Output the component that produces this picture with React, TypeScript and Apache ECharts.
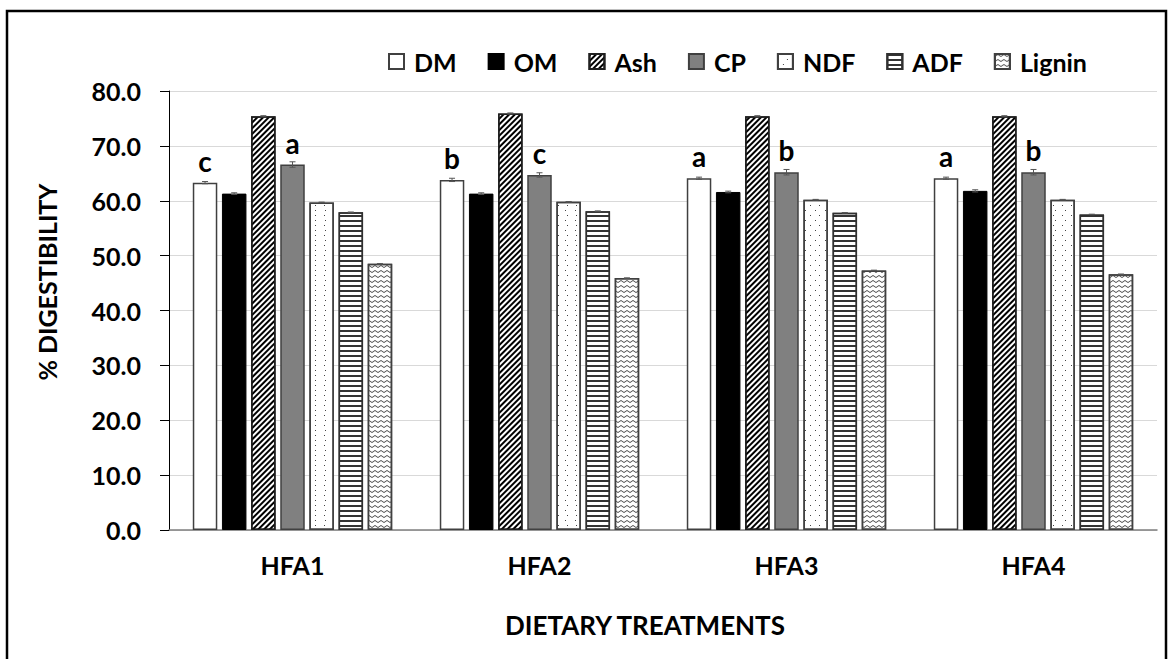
import React, { useEffect, useRef } from "react";
import * as echarts from "echarts";

const categories = ["HFA1", "HFA2", "HFA3", "HFA4"];
const seriesNames = ["DM", "OM", "Ash", "CP", "NDF", "ADF", "Lignin"];
const DM = [63.3, 63.8, 64.1, 64.1];
const OM = [61.3, 61.3, 61.6, 61.8];
const Ash = [75.4, 75.9, 75.4, 75.4];
const CP = [66.6, 64.7, 65.2, 65.2];
const NDF = [59.7, 59.8, 60.2, 60.2];
const ADF = [57.9, 58.1, 57.8, 57.5];
const Lignin = [48.5, 45.9, 47.3, 46.6];
const errDM = [0.2, 0.3, 0.2, 0.2];
const errOM = [0.15, 0.15, 0.15, 0.2];
const errAsh = [0.1, 0.1, 0.1, 0.1];
const errCP = [0.5, 0.4, 0.5, 0.5];
const errNDF = [0.05, 0.05, 0.05, 0.05];
const errADF = [0.05, 0.05, 0.05, 0.05];
const errLignin = [0.05, 0.05, 0.05, 0.05];
const lettersDM = ["c", "b", "a", "a"];
const lettersCP = ["a", "c", "b", "b"];
const yTicks = [0, 10, 20, 30, 40, 50, 60, 70, 80];

const FONT = "Lato";

export default function App() {
  const ref = useRef<HTMLDivElement>(null);
  useEffect(() => {
    if (!ref.current) return;
    const chart = echarts.init(ref.current, null, { renderer: "svg" });
    const values = [DM, OM, Ash, CP, NDF, ADF, Lignin];
    const errs = [errDM, errOM, errAsh, errCP, errNDF, errADF, errLignin];
    const barWidth = 24.5;
    const gapPct = 0.19;
    const step = barWidth * (1 + gapPct);

    const styles: any[] = [
      { color: "#ffffff", borderColor: "#404040", borderWidth: 1.5 },
      { color: "#000000", borderColor: "#000000", borderWidth: 1 },
      {
        color: "#ffffff", borderColor: "#202020", borderWidth: 1.5,
        decal: { symbol: "rect", symbolSize: 1, dashArrayX: [1, 0], dashArrayY: [1.6, 1.6], rotation: -Math.PI / 4, color: "#000000" },
      },
      { color: "#808080", borderColor: "#404040", borderWidth: 1.5 },
      {
        color: "#ffffff", borderColor: "#404040", borderWidth: 1.5,
        decal: { symbol: "rect", symbolSize: 1, dashArrayX: [[1, 8], [0, 4.5, 1, 3.5]], dashArrayY: [1, 3.5], color: "#444444" },
      },
      {
        color: "#ffffff", borderColor: "#303030", borderWidth: 1.5,
        decal: { symbol: "rect", symbolSize: 1, dashArrayX: [1, 0], dashArrayY: [1.3, 2.7], color: "#333333" },
      },
      {
        color: "#ffffff", borderColor: "#404040", borderWidth: 1.5,
        decal: {
          symbol: "path://M0,2 L3,0 L6,2 L6,3 L3,1 L0,3 Z", symbolSize: 1, symbolKeepAspect: false,
          dashArrayX: [6, 0], dashArrayY: [3, 2], color: "#444444",
        },
      },
    ];

    const barSeries: any[] = seriesNames.map((name, i) => ({
      name,
      type: "bar",
      data: values[i],
      barWidth,
      barGap: gapPct * 100 + "%",
      itemStyle: styles[i],
      label:
        i === 0 || i === 3
          ? {
              show: true,
              position: "top",
              distance: 8,
              fontFamily: FONT,
              fontWeight: "bold",
              fontSize: 28,
              color: "#000",
              formatter: (p: any) => (i === 0 ? lettersDM : lettersCP)[p.dataIndex],
            }
          : { show: false },
    }));

    const errData: any[] = [];
    values.forEach((arr, s) => {
      arr.forEach((v, c) => errData.push([c, v, errs[s][c], s]));
    });

    const errSeries = {
      type: "custom",
      name: "err",
      z: 5,
      data: errData,
      encode: { x: 0, y: 1 },
      renderItem: (params: any, api: any) => {
        const c = api.value(0);
        const v = api.value(1);
        const e = api.value(2);
        const s = api.value(3);
        const base = api.coord([c, v]);
        const x = base[0] + (s - 3) * step;
        const top = api.coord([c, v + e])[1];
        const bot = api.coord([c, v - e])[1];
        const st = { stroke: "#555555", lineWidth: 1 };
        return {
          type: "group",
          children: [
            { type: "line", shape: { x1: x, y1: top, x2: x, y2: bot }, style: st },
            { type: "line", shape: { x1: x - 3, y1: top, x2: x + 3, y2: top }, style: st },
            { type: "line", shape: { x1: x - 3, y1: bot, x2: x + 3, y2: bot }, style: st },
          ],
        };
      },
    };

    chart.setOption({
      animation: false,
      backgroundColor: "#ffffff",
      textStyle: { fontFamily: FONT },
      grid: { left: 169, right: 17, top: 91, bottom: 129 },
      legend: {
        data: seriesNames,
        left: 383,
        top: 44,
        itemWidth: 15,
        itemHeight: 15,
        itemGap: 31,
        icon: "rect",
        textStyle: { fontFamily: FONT, fontWeight: "bold", fontSize: 25, color: "#000", padding: [0, 0, 0, 5] },
      },
      xAxis: {
        type: "category",
        data: categories,
        axisLine: { lineStyle: { color: "#7f7f7f", width: 1.5 } },
        axisTick: { show: false },
        axisLabel: { fontFamily: FONT, fontWeight: "bold", fontSize: 25, color: "#000", margin: 22 },
      },
      yAxis: {
        type: "value",
        min: yTicks[0],
        max: yTicks[yTicks.length - 1],
        interval: 10,
        axisLine: { show: true, lineStyle: { color: "#000", width: 1 } },
        axisTick: { show: true, length: 9, lineStyle: { color: "#000" } },
        splitLine: { lineStyle: { color: "#d9d9d9", width: 1 } },
        axisLabel: {
          fontFamily: FONT, fontWeight: "bold", fontSize: 25, color: "#000", margin: 28,
          formatter: (v: number) => v.toFixed(1),
        },
      },
      graphic: [
        {
          type: "rect",
          shape: { x: 7, y: 11, width: 1159, height: 700 },
          style: { fill: "none", stroke: "#000", lineWidth: 2.5 },
          silent: true,
        },
        {
          type: "text",
          x: 47,
          y: 282,
          rotation: Math.PI / 2,
          style: {
            text: "% DIGESTIBILITY",
            fontFamily: FONT, fontWeight: "bold", fontSize: 25, fill: "#000",
            align: "center", verticalAlign: "middle",
          },
        },
        {
          type: "text",
          x: 645,
          y: 625,
          style: {
            text: "DIETARY TREATMENTS",
            fontFamily: FONT, fontWeight: "bold", fontSize: 26, fill: "#000",
            align: "center", verticalAlign: "middle",
          },
        },
      ],
      series: [...barSeries, errSeries],
    });
    return () => chart.dispose();
  }, []);
  return (
    <div
      ref={ref}
      style={{ position: "fixed", left: 0, top: 0, width: 1174, height: 659 }}
    />
  );
}
